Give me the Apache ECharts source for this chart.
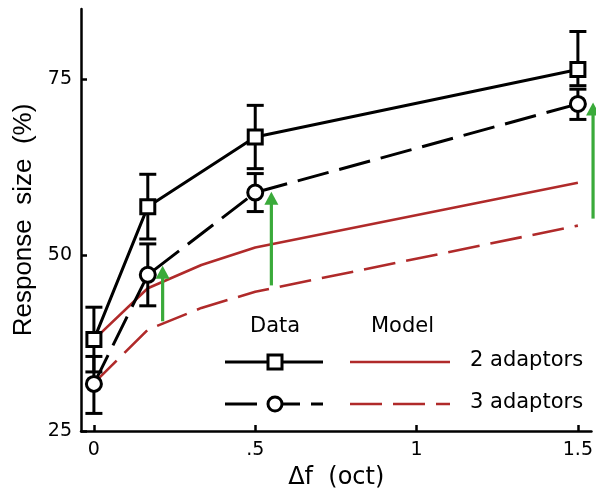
<!DOCTYPE html>
<html>
<head>
<meta charset="utf-8">
<script src="https://cdn.jsdelivr.net/npm/echarts@6/dist/echarts.min.js"></script>
<style>html,body{margin:0;padding:0;background:#fff;}#c{width:596px;height:495px;}</style>
</head>
<body>
<div id="c"></div>
<script>
// ---- data ----
const dataX = [0, 0.167, 0.5, 1.5];
const data2 = [38.0, 56.9, 66.8, 76.4];
const data2Low = [33.4, 52.3, 62.3, 74.1];
const data2High = [42.6, 61.5, 71.3, 81.8];
const data3 = [31.7, 47.2, 58.9, 71.5];
const data3Low = [27.5, 42.8, 56.2, 69.3];
const data3High = [35.6, 51.6, 61.6, 73.6];
const modelX = [0, 0.167, 0.333, 0.5, 1.5];
const model2 = [38.0, 45.3, 48.6, 51.1, 60.3];
const model3 = [31.8, 39.4, 42.5, 44.8, 54.2];
const arrowX = [0.213, 0.55, 1.547];
const arrowFrom = [40.6, 45.7, 55.2];
const arrowTo = [48.5, 59.0, 71.7];
const xTicks = [0, 0.5, 1, 1.5];
const xTickLabels = ['0', '.5', '1', '1.5'];
const yTicks = [25, 50, 75];
const legendTitles = ['Data', 'Model'];
const legendNames = ['2 adaptors', '3 adaptors'];

const RED = '#b02a2a', GREEN = '#3aaa3a', BLACK = '#000';
const DASH = [32, 11];

const pairs = (xs, ys) => xs.map((x, i) => [x, ys[i]]);
const errData = [];
dataX.forEach((x, i) => { errData.push([x, data2Low[i], data2High[i]]); errData.push([x, data3Low[i], data3High[i]]); });
const arrowData = arrowX.map((x, i) => [x, arrowFrom[i], arrowTo[i]]);

const chart = echarts.init(document.getElementById('c'), null, {renderer: 'canvas'});
const tickFont = {fontFamily: 'DejaVu Sans', fontSize: 19, color: '#000'};

// legend graphics (layout only)
const lgText = {fontFamily: 'DejaVu Sans', fontSize: 21, fill: '#000'};
const graphic = [
  {type: 'text', left: 250, top: 316, style: Object.assign({text: legendTitles[0]}, lgText)},
  {type: 'text', left: 371, top: 316, style: Object.assign({text: legendTitles[1]}, lgText)},
  {type: 'text', left: 470, top: 350, style: Object.assign({text: legendNames[0]}, lgText)},
  {type: 'text', left: 470, top: 392, style: Object.assign({text: legendNames[1]}, lgText)},
  {type: 'line', shape: {x1: 225, y1: 362, x2: 323, y2: 362}, style: {stroke: BLACK, lineWidth: 3}},
  {type: 'rect', shape: {x: 268, y: 355, width: 14, height: 14}, style: {fill: '#fff', stroke: BLACK, lineWidth: 3}},
  {type: 'line', shape: {x1: 225, y1: 404, x2: 323, y2: 404}, style: {stroke: BLACK, lineWidth: 3, lineDash: DASH}},
  {type: 'circle', shape: {cx: 275, cy: 404, r: 7}, style: {fill: '#fff', stroke: BLACK, lineWidth: 3}},
  {type: 'line', shape: {x1: 350, y1: 362, x2: 450, y2: 362}, style: {stroke: RED, lineWidth: 2.6}},
  {type: 'line', shape: {x1: 350, y1: 404, x2: 450, y2: 404}, style: {stroke: RED, lineWidth: 2.6, lineDash: DASH}}
];

chart.setOption({
  animation: false,
  backgroundColor: '#fff',
  grid: {left: 81, right: 3, top: 9, bottom: 62, containLabel: false},
  xAxis: {
    type: 'value', min: -0.04, max: 1.542,
    splitLine: {show: false},
    axisLine: {show: true, onZero: false, lineStyle: {color: BLACK, width: 2.5}},
    axisTick: {show: true, inside: true, length: 6, lineStyle: {color: BLACK, width: 2.5}, customValues: xTicks},
    axisLabel: {show: true, margin: 10, customValues: xTicks, formatter: v => xTickLabels[xTicks.indexOf(v)] ?? '', ...tickFont},
    name: 'Δf  (oct)', nameLocation: 'middle', nameGap: 35,
    nameTextStyle: {fontFamily: 'DejaVu Sans', fontSize: 24, color: '#000'}
  },
  yAxis: {
    type: 'value', min: 25, max: 85,
    splitLine: {show: false},
    axisLine: {show: true, onZero: false, lineStyle: {color: BLACK, width: 2.5}},
    axisTick: {show: true, inside: true, length: 6, lineStyle: {color: BLACK, width: 2.5}, customValues: yTicks},
    axisLabel: {show: true, margin: 9, customValues: yTicks, ...tickFont},
    name: 'Response  size  (%)', nameLocation: 'middle', nameGap: 44, nameRotate: 90,
    nameTextStyle: {fontFamily: 'Liberation Sans', fontSize: 26, color: '#000'}
  },
  graphic: graphic,
  series: [
    {type: 'line', data: pairs(modelX, model2), showSymbol: false, symbol: 'none', z: 2,
     lineStyle: {color: RED, width: 2.6}},
    {type: 'line', data: pairs(modelX, model3), showSymbol: false, symbol: 'none', z: 2,
     lineStyle: {color: RED, width: 2.6, type: DASH}},
    {type: 'custom', z: 3, clip: false, data: errData,
     renderItem: (params, api) => {
       const p1 = api.coord([api.value(0), api.value(1)]);
       const p2 = api.coord([api.value(0), api.value(2)]);
       const hw = 8.5;
       const st = {stroke: BLACK, lineWidth: 3};
       return {type: 'group', children: [
         {type: 'line', shape: {x1: p1[0], y1: p1[1], x2: p2[0], y2: p2[1]}, style: st},
         {type: 'line', shape: {x1: p1[0]-hw, y1: p1[1], x2: p1[0]+hw, y2: p1[1]}, style: st},
         {type: 'line', shape: {x1: p2[0]-hw, y1: p2[1], x2: p2[0]+hw, y2: p2[1]}, style: st}
       ]};
     }},
    {type: 'line', data: pairs(dataX, data2), z: 4, symbol: 'rect', symbolSize: 14, showSymbol: true,
     lineStyle: {color: BLACK, width: 3},
     itemStyle: {color: '#fff', borderColor: BLACK, borderWidth: 3}},
    {type: 'line', data: pairs(dataX, data3), z: 4, symbol: 'circle', symbolSize: 15, showSymbol: true,
     lineStyle: {color: BLACK, width: 3, type: DASH},
     itemStyle: {color: '#fff', borderColor: BLACK, borderWidth: 3}},
    {type: 'custom', z: 5, clip: false, data: arrowData,
     renderItem: (params, api) => {
       const p1 = api.coord([api.value(0), api.value(1)]);
       const p2 = api.coord([api.value(0), api.value(2)]);
       const hl = 13, hw = 7;
       return {type: 'group', children: [
         {type: 'line', shape: {x1: p1[0], y1: p1[1], x2: p2[0], y2: p2[1] + hl - 1}, style: {stroke: GREEN, lineWidth: 3.2}},
         {type: 'polygon', shape: {points: [[p2[0], p2[1]], [p2[0]-hw, p2[1]+hl], [p2[0]+hw, p2[1]+hl]]}, style: {fill: GREEN}}
       ]};
     }}
  ]
});
</script>
</body>
</html>
